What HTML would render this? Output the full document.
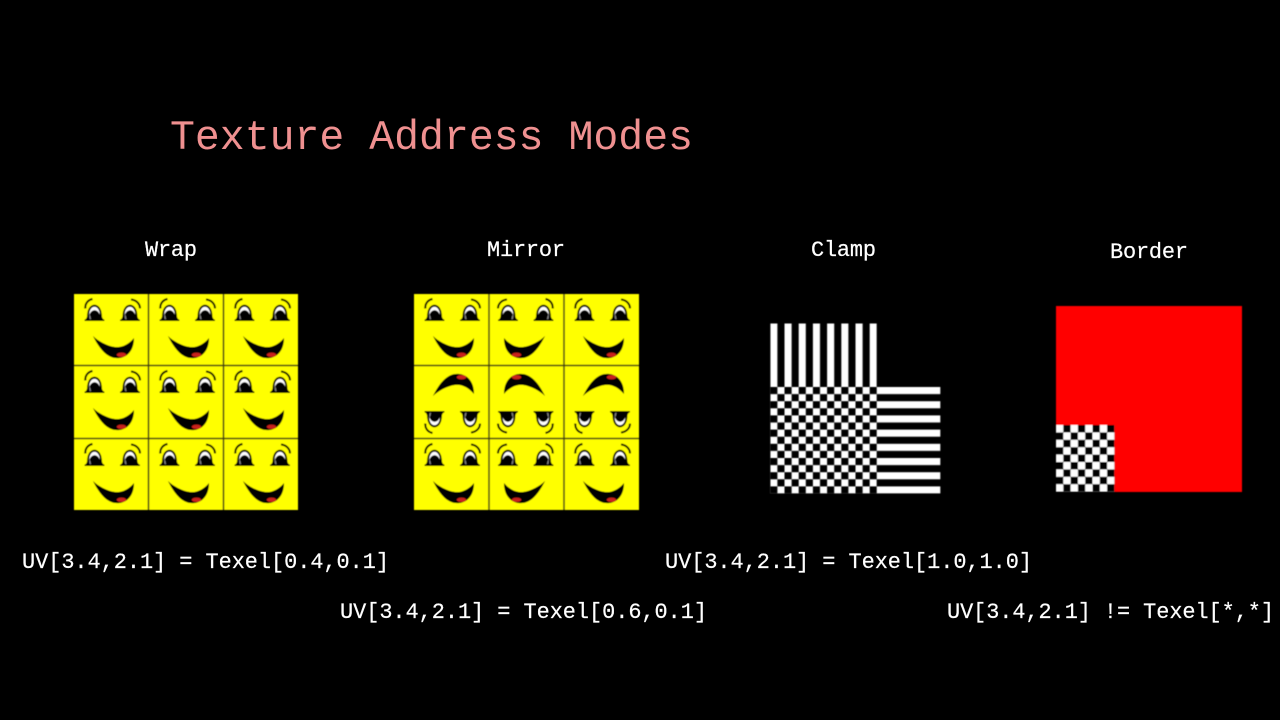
<!DOCTYPE html>
<html>
<head>
<meta charset="utf-8">
<style>
html,body{margin:0;padding:0;background:#000;}
svg{display:block;}
text{font-family:"Liberation Mono",monospace;}
.l{font-size:21.9px;fill:#fff;stroke:#fff;stroke-width:.2px;}
.t{font-size:41.5px;fill:#ef9090;}
</style>
</head>
<body>
<svg width="1280" height="720" viewBox="0 0 1280 720" xmlns="http://www.w3.org/2000/svg">
<defs>
<filter id="soft" x="-2%" y="-2%" width="104%" height="104%"><feGaussianBlur stdDeviation="0.4"/></filter>
<g id="eye">
  <path d="M-10 15 C-8 14.300,-7.500 13,-7.300 10 C-7 4,-4 0,0 0 C4 0,7 4,7.300 10 C7.500 13,8 14.300,10 15 L10 16.200 L-10 16.200Z" fill="#000"/>
  <path d="M-5.300 11 C-5.500 5.500,-3 2,0 2 C3 2,5.300 5.500,5.300 10 C4 6.500,2 5.500,0 5.500 C-2.500 5.500,-4.500 7.500,-5.300 11Z" fill="#fff"/>
  <path d="M-5.300 11 C-5.300 13,-5 14,-4.500 14.500 L-3.500 14.500 C-4 12,-4.500 9,-5.300 11Z" fill="#8a8a8a"/>
</g>
<g id="face">
  <use href="#eye" x="20.500" y="10.700"/>
  <use href="#eye" x="56" y="10.700"/>
  <path d="M11.300 14.500 C11 10,13.500 6,18.500 5" fill="none" stroke="#000" stroke-width="2"/>
  <path d="M57 5.500 C62 6,66 9.500,66 14.500" fill="none" stroke="#000" stroke-width="2"/>
  <path d="M19 42 C24 47,33 52,41 53 C48 54,55 50,60 44 C60 51,58 57,53 61 C48 65,40 65,35 62 C28 58,23 50,19 42Z" fill="#000"/>
  <ellipse cx="47.500" cy="60.800" rx="4.800" ry="2.200" fill="#c8201c"/>
</g>
</defs>
<rect width="1280" height="720" fill="#000"/>

<text class="t" x="170" y="149" textLength="523">Texture Address Modes</text>

<text class="l" x="145" y="256" textLength="52">Wrap</text>
<text class="l" x="487" y="256" textLength="78">Mirror</text>
<text class="l" x="811" y="256" textLength="65">Clamp</text>
<text class="l" x="1110" y="258" textLength="78">Border</text>

<!-- Wrap -->
<g filter="url(#soft)">
  <rect x="74" y="294" width="224" height="216" fill="#ffff00"/>
  <use href="#face" x="74" y="294"/><use href="#face" x="149" y="294"/><use href="#face" x="224" y="294"/>
  <use href="#face" x="74" y="366"/><use href="#face" x="149" y="366"/><use href="#face" x="224" y="366"/>
  <use href="#face" x="74" y="439"/><use href="#face" x="149" y="439"/><use href="#face" x="224" y="439"/>
  <path d="M148.500 294V510M223.500 294V510M74 365.500H298M74 438.500H298" stroke="#3c3c10" stroke-width="1.500" fill="none"/>
</g>

<!-- Mirror -->
<g filter="url(#soft)">
  <rect x="414" y="294" width="225" height="216" fill="#ffff00"/>
  <use href="#face" x="414" y="294"/>
  <use href="#face" transform="translate(564,294) scale(-1,1)"/>
  <use href="#face" x="564" y="294"/>
  <use href="#face" transform="translate(414,438) scale(1,-1)"/>
  <use href="#face" transform="translate(564,438) scale(-1,-1)"/>
  <use href="#face" transform="translate(564,438) scale(1,-1)"/>
  <use href="#face" x="414" y="439"/>
  <use href="#face" transform="translate(564,439) scale(-1,1)"/>
  <use href="#face" x="564" y="439"/>
  <path d="M489 294V510M564 294V510M414 365.500H639M414 438.500H639" stroke="#3c3c10" stroke-width="1.500" fill="none"/>
</g>

<!-- Clamp -->
<g fill="#fff" filter="url(#soft)">
  <pattern id="vs" patternUnits="userSpaceOnUse" x="770.300" y="0" width="14.200" height="10"><rect width="7.100" height="10"/></pattern>
  <rect x="770.300" y="323.500" width="106.500" height="63.500" fill="url(#vs)"/>
  <pattern id="hs" patternUnits="userSpaceOnUse" x="0" y="387" width="10" height="14.200"><rect width="10" height="7.100"/></pattern>
  <rect x="876.800" y="387" width="63.500" height="106.500" fill="url(#hs)"/>
  <pattern id="ck" patternUnits="userSpaceOnUse" x="770.300" y="387" width="14.200" height="14.200">
    <rect x="7.100" y="0" width="7.100" height="7.100"/><rect x="0" y="7.100" width="7.100" height="7.100"/>
  </pattern>
  <rect x="770.300" y="387" width="106.500" height="106.500" fill="url(#ck)"/>
</g>

<!-- Border -->
<g filter="url(#soft)">
  <rect x="1056" y="306" width="186" height="186" fill="#ff0000"/>
  <rect x="1056" y="425" width="58.400" height="67" fill="#000"/>
  <pattern id="ck2" patternUnits="userSpaceOnUse" x="1056" y="425" width="14.600" height="14.800">
    <rect x="0" y="0" width="7.300" height="7.400" fill="#fff"/><rect x="7.300" y="7.400" width="7.300" height="7.400" fill="#fff"/>
  </pattern>
  <rect x="1056" y="425" width="58.400" height="66.700" fill="url(#ck2)"/>
</g>

<text class="l" x="22" y="568" textLength="367">UV[3.4,2.1] = Texel[0.4,0.1]</text>
<text class="l" x="340" y="618" textLength="367">UV[3.4,2.1] = Texel[0.6,0.1]</text>
<text class="l" x="665" y="568" textLength="367">UV[3.4,2.1] = Texel[1.0,1.0]</text>
<text class="l" x="947" y="618" textLength="327">UV[3.4,2.1] != Texel[*,*]</text>
</svg>
</body>
</html>
